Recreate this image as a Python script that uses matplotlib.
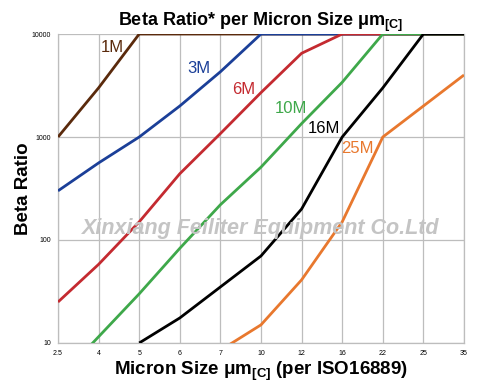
import matplotlib
matplotlib.use("Agg")
import matplotlib.pyplot as plt
import numpy as np

plt.rcParams['font.family'] = ['Liberation Sans', 'DejaVu Sans']
plt.rcParams['mathtext.fontset'] = 'custom'
plt.rcParams['mathtext.rm'] = 'Liberation Sans:bold'
plt.rcParams['mathtext.it'] = 'Liberation Sans:bold'
plt.rcParams['mathtext.bf'] = 'Liberation Sans:bold'

# micron sizes (categorical x axis)
sizes = ["2.5", "4", "5", "6", "7", "10", "12", "16", "22", "25", "35"]

# beta ratios (values < 10 run below the axis)
beta_1M = [1000, 3000, 10000, 10000, 10000, 10000, 10000, 10000, 10000, 10000, 10000]
beta_3M = [300, 560, 1000, 2000, 4300, 10000, 10000, 10000, 10000, 10000, 10000]
beta_6M = [25, 58, 150, 440, 1080, 2700, 6500, 10000, 10000, 10000, 10000]
beta_10M = [4.4, 11.5, 30, 83, 220, 510, 1350, 3400, 10000, 10000, 10000]
beta_16M = [np.nan, np.nan, 10, 17.5, 35, 70, 200, 1000, 3000, 10000, 10000]
beta_25M = [np.nan, np.nan, np.nan, np.nan, 8.5, 15, 41, 150, 1000, 2000, 4000]

series = [
    ("1M", beta_1M, "#5a2a0c"),
    ("3M", beta_3M, "#1b3f98"),
    ("6M", beta_6M, "#c42a30"),
    ("10M", beta_10M, "#3ea84a"),
    ("16M", beta_16M, "#000000"),
    ("25M", beta_25M, "#e8782e"),
]

# label anchor points (axes fraction)
label_pos = {
    "1M": (0.133, 0.955),
    "3M": (0.348, 0.89),
    "6M": (0.458, 0.822),
    "10M": (0.574, 0.76),
    "16M": (0.655, 0.695),
    "25M": (0.738, 0.63),
}

fig = plt.figure(figsize=(5, 3.91), dpi=100)
ax = fig.add_axes([0.116, 0.1228, 0.812, 0.7902])

x = np.arange(len(sizes))
for name, vals, col in series:
    ax.plot(x, vals, color=col, lw=2.0, solid_capstyle='butt', zorder=3)
    px, py = label_pos[name]
    ax.text(px, py, name, color=col, fontsize=12, transform=ax.transAxes,
            ha='center', va='center', zorder=4)

ax.set_yscale('log')
ax.set_ylim(10, 10000)
ax.set_xlim(0, len(sizes) - 1)
ax.set_xticks(x)
ax.set_xticklabels(sizes)
ax.set_yticks([10, 100, 1000, 10000])
ax.set_yticklabels(["10", "100", "1000", "10000"])
ax.minorticks_off()
ax.tick_params(axis='both', labelsize=5, length=0, pad=5)
ax.grid(True, color='#bdbdbd', lw=0.9, zorder=0)
for s in ax.spines.values():
    s.set_color('#bdbdbd')
    s.set_linewidth(0.9)
ax.spines['top'].set_visible(False)

ax.set_title("Beta Ratio* per Micron Size μm$_{\\mathrm{[C]}}$", fontsize=13, fontweight='bold', pad=5)
ax.set_xlabel("Micron Size μm$_{\\mathrm{[C]}}$ (per ISO16889)", fontsize=13.5, fontweight='bold', labelpad=2)
ax.set_ylabel("Beta Ratio", fontsize=13.5, fontweight='bold', labelpad=0)

# watermark
ax.text(0.5, 0.372, "Xinxiang Feiliter Equipment Co.Ltd", transform=ax.transAxes,
        ha='center', va='center', fontsize=15.5, fontweight='bold', style='italic',
        color='#c4c4c4', zorder=5)

fig.savefig("out.png", dpi=100)
